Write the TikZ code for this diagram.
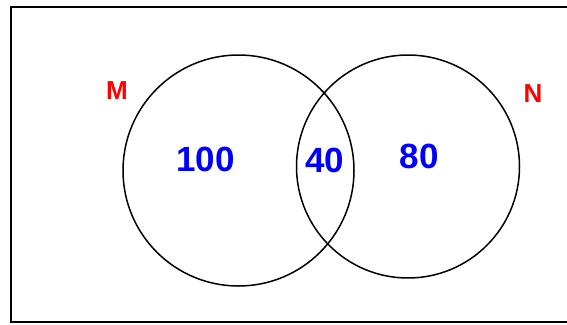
\documentclass[tikz,border=0pt]{standalone}
\usepackage{fontspec}
\setmainfont{Liberation Sans}
\usetikzlibrary{positioning}

\begin{document}
\begin{tikzpicture}[x=1pt, y=-1pt, font=\bfseries,
  setlabel/.style={text=red, font=\fontsize{26}{26}\selectfont\bfseries},
  count/.style={text=blue, font=\fontsize{35}{35}\selectfont\bfseries}]
\clip (0,0) rectangle (567,324);
\fill[white] (0,0) rectangle (567,324);
\draw[line width=1.7pt] (580,7) -- (11,7) -- (11,322) -- (580,322);
\draw[line width=1.5pt] (238.5,170.5) circle (115.5);
\draw[line width=1.5pt] (408,166.5) circle (111.5);
\node[setlabel] (m) at (117,91) {M};
\node[setlabel] (n) at (533,94) {N};
\node[count] (onlym) at (205.5,159) {100};
\node[count] (both) at (325,160.5) {40};
\node[count] (onlyn) at (419,156.5) {80};
\end{tikzpicture}
\end{document}
